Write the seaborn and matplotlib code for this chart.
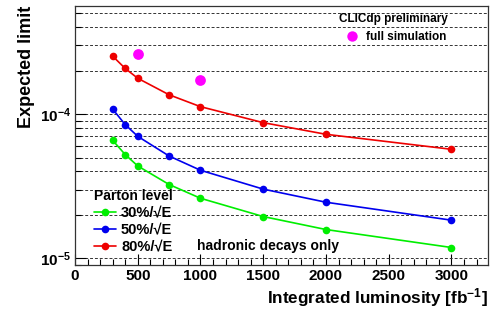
import matplotlib
matplotlib.use('Agg')
import matplotlib.pyplot as plt
import matplotlib.ticker as mticker
from matplotlib.lines import Line2D
import seaborn as sns
import pandas as pd

# luminosity points [fb^-1]
lumi = [300, 400, 500, 750, 1000, 1500, 2000, 3000]

# expected limits, parton level, per jet energy resolution
limit_30 = [6.58e-5, 5.24e-5, 4.37e-5, 3.25e-5, 2.61e-5, 1.95e-5, 1.585e-5, 1.19e-5]
limit_50 = [1.083e-4, 8.45e-5, 7.01e-5, 5.12e-5, 4.08e-5, 3.02e-5, 2.45e-5, 1.84e-5]
limit_80 = [2.52e-4, 2.07e-4, 1.77e-4, 1.36e-4, 1.125e-4, 8.72e-5, 7.24e-5, 5.7e-5]

# full simulation points
fs_lumi = [500, 1000]
fs_limit = [2.62e-4, 1.71e-4]

res_labels = ['30%/√E', '50%/√E', '80%/√E']
colors = ['#00ee00', '#0000ee', '#ee0000']

sns.set_style("ticks")
plt.rcParams['font.family'] = ['Liberation Sans', 'DejaVu Sans']
plt.rcParams['font.weight'] = 'bold'
plt.rcParams['mathtext.fontset'] = 'custom'
plt.rcParams['mathtext.rm'] = 'Liberation Sans:bold'
plt.rcParams['mathtext.it'] = 'Liberation Sans:bold'
plt.rcParams['mathtext.bf'] = 'Liberation Sans:bold'
for k in ['text.color', 'axes.labelcolor', 'xtick.color', 'ytick.color']:
    plt.rcParams[k] = 'black'

rows = []
for lab, vals in zip(res_labels, [limit_30, limit_50, limit_80]):
    for x, y in zip(lumi, vals):
        rows.append({'lumi': x, 'limit': y, 'res': lab})
df = pd.DataFrame(rows)

fig = plt.figure(figsize=(4.98, 3.12), dpi=100)
ax = fig.add_axes([0.1506, 0.1506, 0.829, 0.830])

sns.lineplot(data=df, x='lumi', y='limit', hue='res', hue_order=res_labels,
             palette=colors, marker='o', markersize=5.5, markeredgewidth=0,
             linewidth=1.2, ax=ax)
ax.set_yscale('log')
sns.scatterplot(x=fs_lumi, y=fs_limit, color='#ff00ff', s=60, linewidth=0,
                ax=ax, legend=False, zorder=5)

ax.set_xlim(0, 3290)
ax.set_ylim(9.0e-6, 5.6e-4)

# horizontal dashed grid on every decade subdivision
ax.yaxis.set_minor_locator(mticker.LogLocator(base=10, subs=range(1, 10)))
ax.yaxis.set_minor_formatter(mticker.NullFormatter())
ax.yaxis.grid(True, which='both', linestyle=(0, (3, 2)), color='#333333', lw=0.7)
ax.xaxis.grid(False)

ax.xaxis.set_major_locator(mticker.MultipleLocator(500))
ax.xaxis.set_minor_locator(mticker.MultipleLocator(100))
ax.tick_params(axis='both', which='major', direction='in', length=8, width=0.8,
               labelsize=11, top=False, right=False, pad=3)
ax.tick_params(axis='both', which='minor', direction='in', length=4, width=0.8,
               top=False, right=False)
for s in ax.spines.values():
    s.set_visible(True)
    s.set_linewidth(0.9)
    s.set_color('#333333')

ax.set_xlabel('Integrated luminosity [fb$^{-1}$]', fontsize=12.3, fontweight='bold')
ax.set_ylabel('Expected limit', fontsize=13, fontweight='bold')
ax.xaxis.set_label_coords(1.0, -0.08)
ax.xaxis.label.set_horizontalalignment('right')
ax.yaxis.set_label_coords(-0.138, 1.0)
ax.yaxis.label.set_verticalalignment('top')
ax.yaxis.label.set_horizontalalignment('right')

handles, labels = ax.get_legend_handles_labels()
leg = ax.legend(handles[:3], labels[:3], title='Parton level', loc='lower left',
                bbox_to_anchor=(0.025, 0.01), frameon=False, fontsize=10.5,
                title_fontproperties={'weight': 'bold', 'size': 10},
                handlelength=1.5, handletextpad=0.35, labelspacing=0.2,
                borderpad=0.1)
leg._legend_box.align = 'left'
ax.add_artist(leg)

fs_handle = Line2D([], [], marker='o', color='#ff00ff', linestyle='none',
                   markersize=7.5, markeredgewidth=0)
leg2 = ax.legend([fs_handle], ['full simulation'], title='CLICdp preliminary',
                 loc='upper right', bbox_to_anchor=(0.92, 1.0), frameon=False,
                 fontsize=8.5, title_fontproperties={'weight': 'bold', 'size': 8.5},
                 handletextpad=0.2, labelspacing=0.5, borderpad=0.1)

ax.text(0.295, 0.075, 'hadronic decays only', transform=ax.transAxes,
        fontsize=10, fontweight='bold', ha='left', va='center')

fig.savefig('out.png', dpi=100)
